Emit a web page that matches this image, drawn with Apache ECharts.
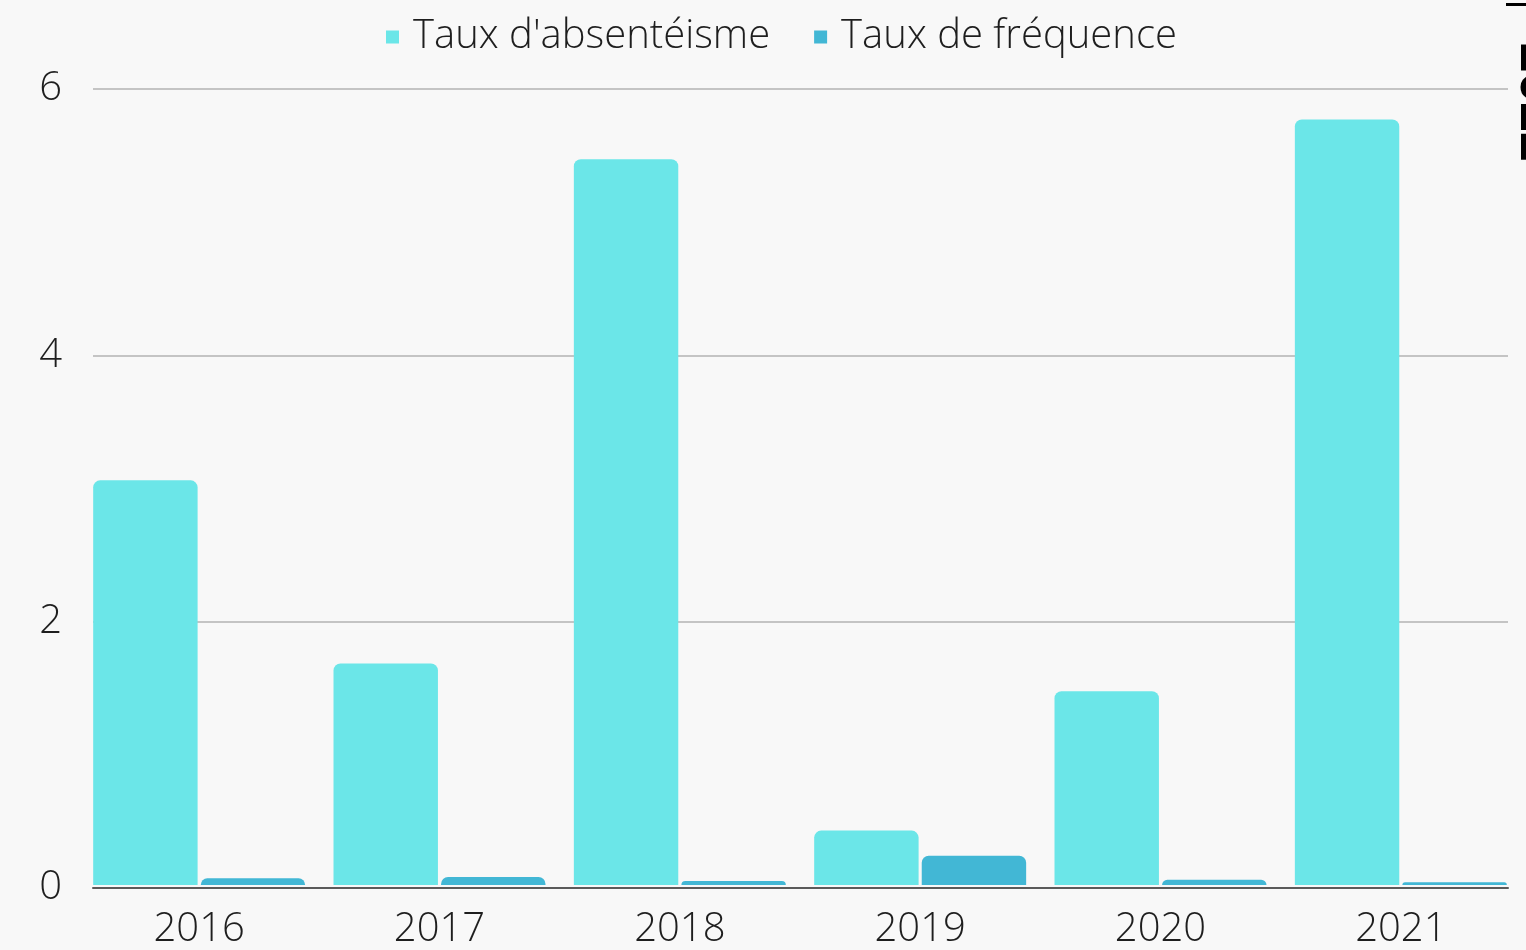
<!DOCTYPE html>
<html>
<head>
<meta charset="utf-8">
<script src="https://cdn.jsdelivr.net/npm/echarts@6/dist/echarts.min.js"></script>
<style>
  html, body { margin: 0; padding: 0; background: #f8f8f8; }
  #main { width: 1526px; height: 950px; }
</style>
</head>
<body>
<div id="main"></div>
<script>
// données
var annees = ["2016", "2017", "2018", "2019", "2020", "2021"];
var tauxAbsenteisme = [3.05, 1.67, 5.47, 0.41, 1.46, 5.77];
var tauxFrequence = [0.05, 0.06, 0.03, 0.22, 0.04, 0.02];
var yTicks = { min: 0, max: 6, interval: 2 };

var police = "'Open Sans', 'Noto Sans', sans-serif";
var chart = echarts.init(document.getElementById("main"));

var option = {
  backgroundColor: "#f8f8f8",
  animation: false,
  legend: {
    top: 12,
    left: 381,
    itemWidth: 13,
    itemHeight: 13,
    itemGap: 44,
    icon: "rect",
    textStyle: { fontFamily: police, fontSize: 40, fontWeight: 300, color: "#1e1e1e", padding: [0, 0, 0, 9] },
    data: ["Taux d'absentéisme", "Taux de fréquence"]
  },
  grid: [
    // grille des lignes et de l'axe
    { left: 93, right: 18, top: 89, bottom: 62 },
    // grille des barres
    { left: 79, right: 5, top: 89, bottom: 62 }
  ],
  xAxis: [
    {
      gridIndex: 0,
      type: "category",
      data: annees,
      axisLine: { lineStyle: { color: "#5a5a5a", width: 2 } },
      axisTick: { show: false },
      axisLabel: { show: false }
    },
    {
      gridIndex: 1,
      type: "category",
      data: annees,
      axisLine: { show: false },
      axisTick: { show: false },
      axisLabel: { fontFamily: police, fontSize: 40, fontWeight: 300, color: "#1e1e1e", margin: 25 }
    }
  ],
  yAxis: [
    {
      gridIndex: 0,
      type: "value",
      min: yTicks.min,
      max: yTicks.max,
      interval: yTicks.interval,
      axisLine: { show: false },
      axisTick: { show: false },
      axisLabel: { fontFamily: police, fontSize: 40, fontWeight: 300, color: "#1e1e1e", margin: 31 },
      splitLine: { lineStyle: { color: "#c4c4c4", width: 2 } }
    },
    {
      gridIndex: 1,
      type: "value",
      min: yTicks.min,
      max: yTicks.max,
      interval: yTicks.interval,
      show: false,
      splitLine: { show: false }
    }
  ],
  series: [
    {
      name: "Taux d'absentéisme",
      type: "bar",
      xAxisIndex: 1,
      yAxisIndex: 1,
      data: tauxAbsenteisme,
      barCategoryGap: "11.8%",
      barGap: "3%",
      itemStyle: { color: "#6be6e8", borderRadius: [7, 7, 0, 0] }
    },
    {
      name: "Taux de fréquence",
      type: "bar",
      xAxisIndex: 1,
      yAxisIndex: 1,
      data: tauxFrequence,
      barCategoryGap: "11.8%",
      barGap: "3%",
      itemStyle: { color: "#42b7d5", borderRadius: [7, 7, 0, 0] }
    }
  ],
  graphic: [
    {
      type: "text",
      x: 1536,
      y: 102,
      rotation: -Math.PI / 2,
      style: {
        text: "2022",
        fontFamily: police,
        fontSize: 52,
        fontWeight: "bold",
        fill: "#000",
        textAlign: "center",
        textVerticalAlign: "middle"
      }
    },
    {
      type: "rect",
      shape: { x: 1506, y: 3, width: 20, height: 3 },
      style: { fill: "#000" }
    }
  ]
};

chart.setOption(option);
</script>
</body>
</html>
